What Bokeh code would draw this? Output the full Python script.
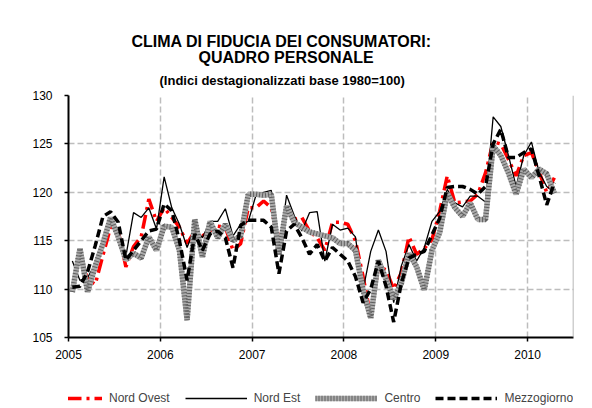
from bokeh.plotting import figure
from bokeh.layouts import column
from bokeh.models import Range1d, FixedTicker, Title, Legend, LegendItem, Span
from bokeh.embed import file_html
from bokeh.resources import INLINE

# ---- data (monthly, Jan 2005 - Apr 2010) ----
start_year = 2005
year_ticks = [2005, 2006, 2007, 2008, 2009, 2010]
year_labels = ["2005", "2006", "2007", "2008", "2009", "2010"]
y_ticks = [105, 110, 115, 120, 125, 130]
series_names = ["Nord Ovest", "Nord Est", "Centro", "Mezzogiorno"]

nord_ovest = [110.0, 113.5, 111.0, 110.5, 113.5, 116.4, 116.0, 112.3, 114.4, 115.4, 119.3, 117.0,
              118.4, 117.4, 116.4, 114.7, 116.0, 115.5, 116.0, 116.5, 116.4, 114.0, 114.7, 118.4,
              118.4, 119.1, 118.4, 114.7, 118.1, 117.2, 117.4, 116.0, 115.3, 114.0, 116.9, 116.9,
              116.7, 115.0, 111.3, 107.2, 112.3, 112.0, 110.0, 111.7, 115.4, 113.6, 114.2, 115.1,
              118.0, 121.7, 118.9, 119.0, 119.1, 119.8, 122.0, 125.2, 125.0, 123.4, 121.7, 123.8,
              124.1, 122.1, 120.0, 121.5]
nord_est = [112.9, 110.9, 111.2, 112.6, 114.6, 117.0, 115.5, 113.4, 117.9, 117.4, 118.4, 116.2,
            121.6, 118.4, 116.7, 114.3, 116.4, 115.3, 117.0, 117.0, 118.3, 115.5, 116.7, 117.0,
            119.7, 120.0, 120.2, 113.6, 119.7, 117.6, 116.0, 117.9, 118.0, 112.9, 116.7, 116.1,
            116.3, 115.4, 109.9, 113.9, 116.1, 113.9, 108.6, 112.4, 114.6, 112.9, 114.3, 117.0,
            118.0, 120.3, 118.9, 118.5, 119.6, 119.6, 119.0, 127.8, 126.8, 123.8, 120.6, 123.8,
            125.2, 122.1, 120.6, 120.0]
centro = [109.7, 114.2, 109.7, 112.4, 114.7, 117.4, 115.4, 113.0, 113.7, 113.2, 115.4, 114.0,
          116.5, 116.4, 114.0, 106.8, 117.2, 113.3, 117.0, 115.3, 116.7, 115.0, 115.5, 119.8,
          119.8, 119.7, 119.8, 113.6, 118.6, 116.9, 116.4, 115.9, 115.7, 115.5, 115.3, 114.7,
          114.7, 114.0, 109.9, 107.0, 113.0, 111.0, 109.0, 110.6, 113.7, 112.3, 109.9, 114.0,
          115.8, 119.9, 118.4, 117.5, 118.9, 117.2, 117.2, 124.8, 123.8, 122.0, 119.8, 122.4,
          121.5, 122.4, 121.9, 119.9]
mezzogiorno = [110.2, 110.3, 111.8, 114.5, 117.5, 118.0, 116.9, 113.0, 114.0, 115.0, 116.0, 116.2,
               118.8, 118.1, 115.0, 110.9, 115.7, 114.0, 115.7, 116.0, 115.3, 112.2, 116.6, 117.1,
               117.1, 117.1, 116.4, 111.6, 116.0, 116.7, 115.3, 113.6, 114.6, 112.9, 114.3, 113.6,
               112.9, 111.3, 108.6, 110.0, 112.9, 110.3, 106.6, 110.6, 113.2, 113.6, 113.9, 115.6,
               117.3, 120.5, 120.6, 120.6, 120.3, 119.8, 120.6, 125.0, 126.5, 123.6, 123.6, 124.1,
               124.5, 121.7, 118.7, 121.0]

# month positions (middle of each month, in years)
months = [start_year + (i + 0.5) / 12 for i in range(len(nord_ovest))]

FONT = "Liberation Sans"

STYLES = [
    [dict(line_color="red", line_width=3.5, line_dash="14 5 3 5")],
    [dict(line_color="black", line_width=1.3)],
    [dict(line_color="#ababab", line_width=5.5),
     dict(line_color="#606060", line_width=5.5, line_dash="1 2")],
    [dict(line_color="black", line_width=3.5, line_dash="8 4")],
]

p = figure(width=592, height=368, output_backend="svg", toolbar_location=None,
           x_range=Range1d(2005, 2010.5), y_range=Range1d(105, 130),
           min_border_left=68, min_border_right=19, min_border_top=95, min_border_bottom=31)
p.outline_line_color = None

# titles (first added is closest to the plot)
for txt, size, standoff, off in [("(Indici destagionalizzati  base 1980=100)", "13px", 16, 91),
                                 ("QUADRO PERSONALE", "16px", -6, 130),
                                 ("CLIMA DI FIDUCIA DEI CONSUMATORI:", "16px", 0, 63)]:
    p.add_layout(Title(text=txt, align="left", offset=off, text_font_size=size,
                       text_font=FONT, text_font_style="bold", standoff=standoff,
                       text_color="black"), "above")

# axes
p.xaxis.ticker = FixedTicker(ticks=year_ticks)
p.xaxis.major_label_overrides = {y: l for y, l in zip(year_ticks, year_labels)}
p.yaxis.ticker = FixedTicker(ticks=y_ticks)
for ax in (p.xaxis, p.yaxis):
    ax.axis_line_width = 2
    ax.axis_line_color = "black"
    ax.major_tick_line_color = "black"
    ax.major_tick_line_width = 1.5
    ax.major_tick_in = 0
    ax.major_tick_out = 4
    ax.minor_tick_line_color = None
    ax.major_label_text_font = FONT
    ax.major_label_text_font_size = "12px"
    ax.major_label_text_color = "black"
p.yaxis.major_label_standoff = 12
p.xaxis.major_label_standoff = 8

for g in (p.xgrid, p.ygrid):
    g.grid_line_color = "#bdbdbd"
    g.grid_line_width = 1.5
    g.grid_line_dash = "6 3"

p.add_layout(Span(location=2010.5, dimension="height", line_color="#a0a0a0", line_width=1.5))

# series
for vals, styles in zip([nord_ovest, nord_est, centro, mezzogiorno], STYLES):
    for st in styles:
        p.line(months, vals, **st)

# legend in a small strip below the chart (its sample lines lie outside the strip's range)
p2 = figure(width=592, height=38, output_backend="svg", toolbar_location=None,
            x_axis_location=None, y_axis_location=None,
            x_range=Range1d(0, 1), y_range=Range1d(0, 1),
            min_border_left=68, min_border_right=19, min_border_top=0, min_border_bottom=0)
p2.outline_line_color = None
p2.grid.visible = False
hidden_x = [5, 6]
hidden_y = [5, 6]
items = []
for name, styles in zip(series_names, STYLES):
    rs = [p2.line(hidden_x, hidden_y, **st) for st in styles]
    items.append(LegendItem(label=name, renderers=rs))
legend = Legend(items=items, orientation="horizontal", location=(-28, 1), glyph_width=62,
                glyph_height=14, label_standoff=7, spacing=15, padding=0, margin=0,
                border_line_color=None, background_fill_alpha=0,
                label_text_font=FONT, label_text_font_size="12px")
p2.add_layout(legend)

layout = column(p, p2, spacing=0)
open("out.html", "w").write(file_html(layout, INLINE))
